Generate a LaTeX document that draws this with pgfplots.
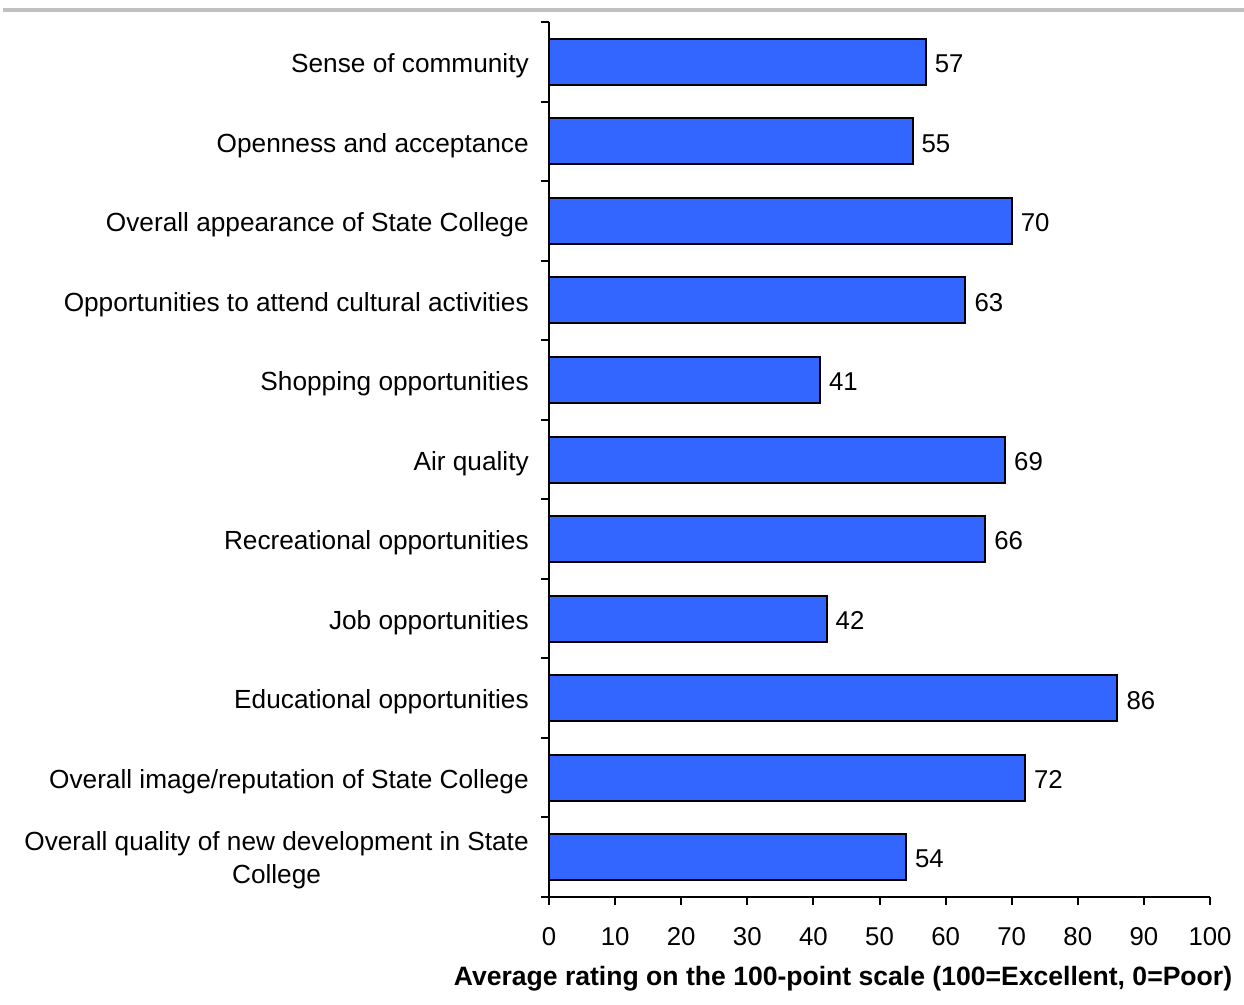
\documentclass[border=0pt]{standalone}
\usepackage{fontspec}
\setmainfont{Liberation Sans}
\usepackage{pgfplots}
\pgfplotsset{compat=1.18}
\definecolor{barblue}{HTML}{3366FF}
\definecolor{topgray}{HTML}{C0C0C0}
\begin{document}
\begin{tikzpicture}
\begin{axis}[
  scale only axis,
  width=297.45pt, height=393.75pt,
  xbar, bar width=20.7pt,
  xmin=0, xmax=100,
  ymin=-0.5, ymax=10.5,
  y dir=reverse,
  axis x line*=bottom,
  axis y line*=left,
  axis line style={black, line width=0.9pt},
  xtick={0,10,...,100},
  tick style={black, line width=0.9pt},
  tick align=outside,
  major tick length=3.6pt,
  ytick={-0.5,0.5,...,10.5},
  yticklabels={},
  extra y ticks={0,...,10},
  extra y tick style={major tick length=0pt, tick style={draw=none}},
  extra y tick labels={
    Sense of community,
    Openness and acceptance,
    Overall appearance of State College,
    Opportunities to attend cultural activities,
    Shopping opportunities,
    Air quality,
    Recreational opportunities,
    Job opportunities,
    Educational opportunities,
    Overall image/reputation of State College,
    {\begin{tabular}{@{}c@{}}Overall quality of new development in State\\[2pt] College\end{tabular}}
  },
  yticklabel style={font=\fontsize{11.8}{13}\selectfont, anchor=east, xshift=-5.6pt, yshift=-1.8pt},
  xticklabel style={font=\fontsize{11.6}{13}\selectfont, yshift=-6.7pt},
  /pgf/number format/assume math mode=true,
  xlabel={\bfseries Average rating on the 100-point scale (100=Excellent, 0=Poor)},
  xlabel style={font=\fontsize{11.95}{13}\selectfont, at={(axis description cs:0.4448,-0.0937)}, anchor=center},
  nodes near coords,
  nodes near coords style={font=\fontsize{11.6}{13}\selectfont, anchor=west, xshift=0.3pt, yshift=-0.9pt, black},
  clip=false,
]
\addplot[fill=barblue, draw=black, line width=0.9pt] coordinates {
  (57,0) (55,1) (70,2) (63,3) (41,4) (69,5) (66,6) (42,7) (86,8) (72,9) (54,10)
};
\draw[topgray, line width=1.8pt] (rel axis cs:-0.826,1.0137) -- (rel axis cs:1.0514,1.0137);
\coordinate (bbA) at (rel axis cs:-0.8306,1.02514);
\coordinate (bbB) at (rel axis cs:1.0514,-0.12343);
\end{axis}
\pgfresetboundingbox
\useasboundingbox (bbA) rectangle (bbB);
\end{tikzpicture}
\end{document}
